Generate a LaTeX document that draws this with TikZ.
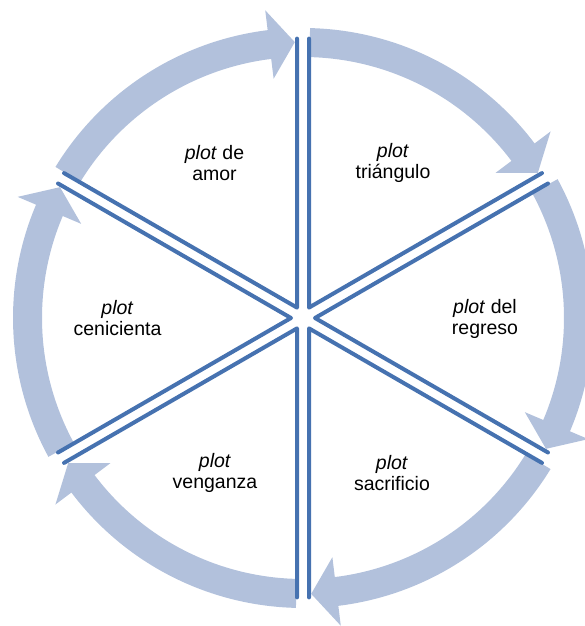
\documentclass[tikz,border=0pt]{standalone}
\usepackage{fontspec}
\setmainfont{Liberation Sans}
\definecolor{arrowc}{RGB}{178,193,220}
\definecolor{linec}{RGB}{70,114,176}
\begin{document}
\begin{tikzpicture}[x=1pt,y=1pt,
  arrowband/.style={fill=arrowc},
  edge/.style={draw=linec, line width=4pt, line cap=round, line join=round},
  lbl/.style={align=center, font=\fontsize{19.5}{21}\selectfont, inner sep=0pt}]
\useasboundingbox (0,0) rectangle (585,626);
\begin{scope}[shift={(303,308)}]
\foreach \b in {90,30,-30,-90,-150,-210} {
  \pgfmathsetmacro\s{\b-1.4}
  \pgfmathsetmacro\h{\b-60+7}
  \pgfmathsetmacro\t{\b-60+1.7}
  \fill[arrowband] (\s:290) arc[start angle=\s, end angle=\h, radius=290] -- (\h:310) -- (\t:276) -- (\h:241) -- (\h:261) arc[start angle=\h, end angle=\s, radius=261] -- cycle;
}
\foreach \b in {60,0,-60,-120,-180,-240} {
  \draw[edge, shift={(\b:12)}] (\b+30:269) -- (0,0) -- (\b-30:269);
}
\end{scope}
\node[lbl] (amor) at (214.5,463) {\textit{plot} de\\amor};
\node[lbl] (triangulo) at (393,463) {\textit{plot}\\triángulo};
\node[lbl] (regreso) at (485,307.5) {\textit{plot} del\\regreso};
\node[lbl] (cenicienta) at (117.5,307.5) {\textit{plot}\\cenicienta};
\node[lbl] (venganza) at (215,153) {\textit{plot}\\venganza};
\node[lbl] (sacrificio) at (392,153) {\textit{plot}\\sacrificio};
\end{tikzpicture}
\end{document}
